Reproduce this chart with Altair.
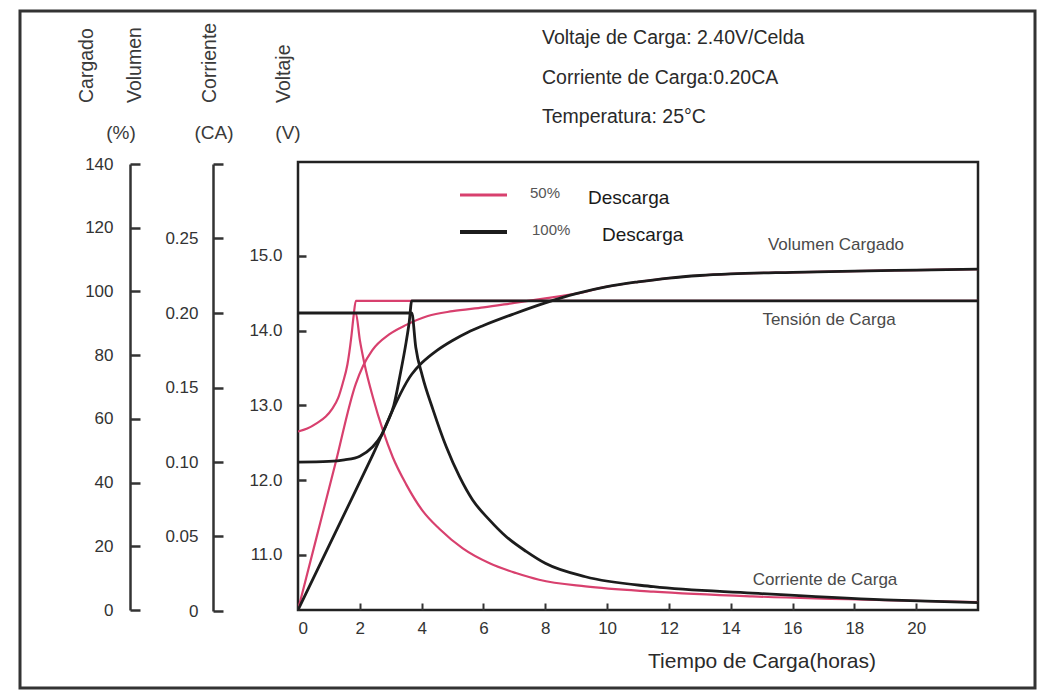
import altair as alt
import pandas as pd

# ---------------- data ----------------
series_names = ["50% Descarga", "100% Descarga"]
series_colors = ["#d8406e", "#1c1c1c"]

# Charging voltage (V)
volt_t_50 = [0, 0.3, 0.6, 0.9, 1.1, 1.3, 1.45, 1.6, 1.72, 1.8, 1.87, 5, 10, 22]
volt_v_50 = [12.65, 12.69, 12.76, 12.85, 12.95, 13.1, 13.3, 13.55, 13.9, 14.2, 14.4, 14.4, 14.4, 14.4]
volt_t_100 = [0, 1.0, 1.5, 2.0, 2.4, 2.7, 2.9, 3.1, 3.3, 3.5, 3.6, 3.68, 8, 22]
volt_v_100 = [12.24, 12.25, 12.27, 12.32, 12.44, 12.6, 12.78, 13.0, 13.4, 13.85, 14.12, 14.4, 14.4, 14.4]

# Charging current (CA)
cur_t_50 = [0, 1.0, 1.87, 2.0, 2.15, 2.43, 2.75, 3.07, 3.5, 4.04, 4.58, 5.33, 6.2, 7.05, 7.8, 9.3, 11.5, 14.7, 19, 22]
cur_c_50 = [0.2, 0.2, 0.2, 0.182, 0.166, 0.143, 0.121, 0.103, 0.085, 0.067, 0.055, 0.042, 0.032, 0.0255, 0.021, 0.0165, 0.013, 0.0098, 0.0072, 0.006]
cur_t_100 = [0, 2.0, 3.68, 3.81, 4.02, 4.37, 4.8, 5.23, 5.65, 6.2, 6.73, 7.38, 8.0, 9.3, 11.5, 14.7, 19, 22]
cur_c_100 = [0.2, 0.2, 0.2, 0.177, 0.158, 0.135, 0.110, 0.090, 0.0745, 0.061, 0.050, 0.040, 0.032, 0.023, 0.0163, 0.012, 0.0074, 0.0056]

# Charged volume (%)
pct_t_50 = [0, 0.6, 1.2, 1.87, 2.1, 2.4, 2.95, 3.5, 4.2, 5, 6, 7, 8, 9, 10, 11, 12, 13, 14, 16, 18, 20, 22]
pct_v_50 = [0, 22.8, 45.6, 71, 76.5, 81.5, 86.5, 89.5, 92.3, 93.8, 95, 96.4, 97.8, 99.3, 101.5, 103, 104.2, 105, 105.5, 106, 106.4, 106.7, 107]
pct_t_100 = [0, 1.2, 2.4, 3.68, 4.0, 4.5, 5.0, 5.5, 6, 7, 8, 9, 10, 11, 12, 13, 14, 16, 18, 20, 22]
pct_v_100 = [0, 24.1, 48.3, 74, 77.5, 81.5, 84.6, 87.2, 89.3, 93, 96.4, 99.3, 101.5, 103, 104.2, 105, 105.5, 106, 106.4, 106.7, 107]

x_ticks = list(range(0, 21, 2))
volt_ticks = [11, 12, 13, 14, 15]
cur_ticks = [0, 0.05, 0.10, 0.15, 0.20, 0.25, 0.30]
pct_ticks = list(range(0, 141, 20))

info_lines = ["Voltaje de Carga: 2.40V/Celda", "Corriente de Carga:0.20CA", "Temperatura: 25°C"]
axis_titles = ["Cargado", "Volumen", "Corriente", "Voltaje"]
unit_labels = ["(%)", "(CA)", "(V)"]
curve_labels = ["Volumen Cargado", "Tensión de Carga", "Corriente de Carga"]
legend_pcts = ["50%", "100%"]
legend_word = "Descarga"
x_title = "Tiempo de Carga(horas)"

FONT = "Liberation Sans"
AX = "#333333"

# ---------------- chart ----------------
W, H = 680, 448

x_enc = alt.X("t:Q", scale=alt.Scale(domain=[0, 22], nice=False, zero=False),
              axis=alt.Axis(orient="bottom", values=x_ticks, offset=-7, tickSize=7, tickWidth=2,
                            tickColor=AX, domain=False, grid=False, labelPadding=10,
                            labelFontSize=17, labelColor=AX, labelFont=FONT, title=None))

volt_scale = alt.Scale(domain=[10.261, 16.258], range=[H, 0], nice=False, zero=False)
cur_scale = alt.Scale(domain=[0, 0.30], range=[H + 1, 2], nice=False, zero=False)
pct_scale = alt.Scale(domain=[0, 140], range=[H, 2], nice=False, zero=False)


def tick_axis(values, offset, tick, pad, fmt=None, expr=None):
    kw = dict(orient="left", values=values, offset=offset, tickSize=tick, tickWidth=2.5,
              tickColor=AX, domain=False, grid=False, labelPadding=pad, labelFontSize=17,
              labelColor=AX, labelFont=FONT, title=None)
    if fmt:
        kw["format"] = fmt
    if expr:
        kw["labelExpr"] = expr
    return alt.Axis(**kw)


def domain_axis(offset):
    return alt.Axis(orient="left", offset=offset, domain=True, domainColor=AX, domainWidth=2.5,
                    ticks=False, labels=False, grid=False, title=None)


def line(t, v, color, width, scale, axis):
    df = pd.DataFrame({"t": t, "v": v})
    return alt.Chart(df).mark_line(color=color, strokeWidth=width, clip=True,
                                   interpolate="monotone").encode(
        x=x_enc, y=alt.Y("v:Q", scale=scale, axis=axis))


pink, black = series_colors

layers = [
    line(volt_t_50, volt_v_50, pink, 2.2, volt_scale, None),
    line(cur_t_50, cur_c_50, pink, 2.2, cur_scale, domain_axis(85)),
    line(pct_t_50, pct_v_50, pink, 2.2, pct_scale, domain_axis(168)),
    line(volt_t_100, volt_v_100, black, 2.8, volt_scale,
         tick_axis(volt_ticks, -8, 8, 16, fmt=".1f")),
    line(cur_t_100, cur_c_100, black, 2.8, cur_scale,
         tick_axis(cur_ticks, 75, 10, 15,
                   expr="datum.value == 0 ? '0' : (datum.value > 0.27 ? '' : format(datum.value, '.2f'))")),
    line(pct_t_100, pct_v_100, black, 2.8, pct_scale,
         tick_axis(pct_ticks, 158, 10, 17, fmt="d")),
]


def text(s, x, y, size=16, color="#3a3a3a", align="left", angle=0, weight="normal", baseline="middle"):
    kw = dict(text=s, align=align, baseline=baseline, fontSize=size, font=FONT, color=color,
              fontWeight=weight)
    if angle:
        kw["angle"] = angle
    return alt.Chart(pd.DataFrame({"a": [0]})).mark_text(**kw).encode(
        x=alt.value(x), y=alt.value(y))


one = pd.DataFrame({"a": [0]})
deco = []
# outer frame
deco.append(alt.Chart(one).mark_rect(filled=False, stroke="#333333", strokeWidth=3).encode(
    x=alt.value(-278), x2=alt.value(737), y=alt.value(-151), y2=alt.value(526)))
# info texts
for s, y in zip(info_lines, [-124, -84, -45]):
    deco.append(text(s, 244, y, size=19.5, color="#2a2a2a"))
# rotated axis titles
for s, x in zip(axis_titles, [-211, -163, -88, -14]):
    deco.append(text(s, x, -59, size=19.5, angle=270))
for s, x in zip(unit_labels, [-177, -84, -10]):
    deco.append(text(s, x, -29, size=19, align="center"))
# curve labels
for s, x, y in zip(curve_labels, [538, 531, 527], [83, 158, 418]):
    deco.append(text(s, x, y, size=17, color="#4a4a4a", align="center"))
# legend
for col, wdt, y, pct, px, wx in [(pink, 3, 33, legend_pcts[0], 232, 290),
                                 (black, 4, 70, legend_pcts[1], 234, 304)]:
    deco.append(alt.Chart(one).mark_rule(color=col, strokeWidth=wdt).encode(
        x=alt.value(162), x2=alt.value(209), y=alt.value(y)))
    deco.append(text(pct, px, y - 2, size=15, color="#555555"))
    deco.append(text(legend_word, wx, y + 3, size=19, color="#1a1a1a"))
# x axis title
deco.append(text(x_title, 464, 500, size=21, color="#2a2a2a", align="center"))

chart = alt.layer(*layers, *deco).resolve_scale(y="independent").properties(
    width=W, height=H,
    autosize=alt.AutoSizeParams(type="none"),
    padding={"left": 290, "top": 154, "right": 60, "bottom": 80},
).configure_view(stroke="#222222", strokeWidth=2.5)

chart.save("out.html", embed_options={"renderer": "svg", "actions": False})
